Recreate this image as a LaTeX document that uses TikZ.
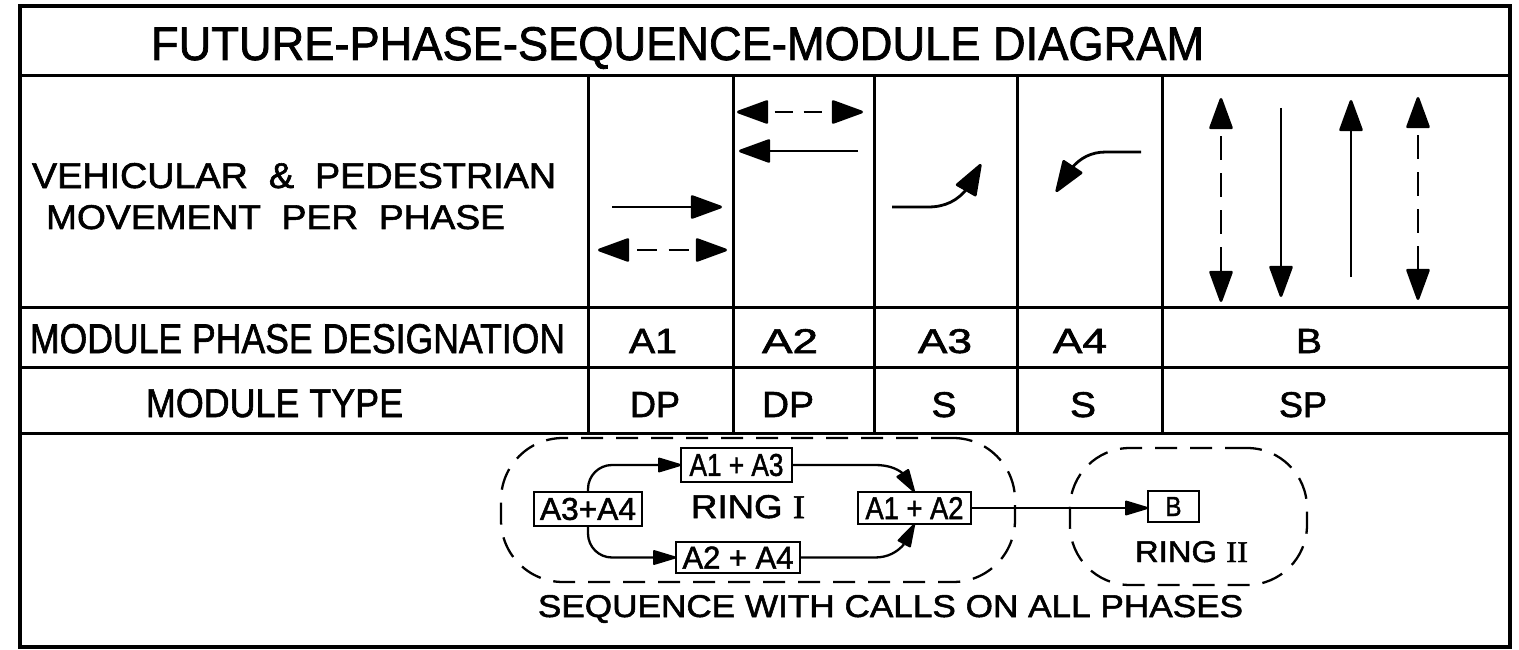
\documentclass[tikz,border=0pt]{standalone}
\usepackage{fontspec}
\setmainfont{Liberation Sans}[FakeBold=1.6]
\newfontfamily\serifI{Liberation Serif}[FakeBold=1.6]
\usepackage{graphicx}
\usetikzlibrary{arrows.meta,bending}
\newcommand{\T}[3]{\resizebox{#1pt}{#2pt}{#3}}
\newcommand{\rn}[1]{{\serifI #1}}
\begin{document}
\begin{tikzpicture}[x=1pt,y=-1pt]
\tikzset{
  framelw/.style={line width=3.5pt},
  gridlw/.style={line width=3pt},
  lbl/.style={inner sep=0pt, outer sep=0pt},
  mv/.style={line width=2.8pt},
  hd/.style={arrows={-Triangle[length=34pt,width=24pt,round]}},
  dhd/.style={arrows={Triangle[length=34pt,width=24pt,round]-Triangle[length=34pt,width=24pt,round]}},
  bx/.style={draw, line width=2.5pt, inner sep=0pt, outer sep=0pt},
  ringshape/.style={draw, line width=2.3pt, dash pattern=on 22pt off 13pt, inner sep=0pt, outer sep=0pt},
  sq/.style={line width=2.3pt, arrows={-Triangle[length=26pt,width=15pt,round]}}
}
\useasboundingbox (0,0) rectangle (1519,650);
\fill[white] (0,0) rectangle (1519,650);
% table grid
\draw[framelw] (20,6) rectangle (1510,647);
\draw[gridlw] (20,76) -- (1510,76);
\draw[gridlw] (20,307) -- (1510,307);
\draw[gridlw] (20,367) -- (1510,367);
\draw[gridlw] (20,433) -- (1510,433);
\foreach \x in {588,733,874,1017,1162} \draw[gridlw] (\x,76) -- (\x,433);
% texts
\node[lbl, anchor=base west] (title) at (151,60) {\T{1053}{33}{FUTURE-PHASE-SEQUENCE-MODULE DIAGRAM}};
\node[lbl, anchor=base west] (veh1) at (32,188) {\T{524}{25}{VEHICULAR \ \& \ PEDESTRIAN}};
\node[lbl, anchor=base west] (veh2) at (46,229) {\T{459}{24}{MOVEMENT \ PER \ PHASE}};
\node[lbl, anchor=base west] (mpd) at (30,353) {\T{535}{29}{MODULE PHASE DESIGNATION}};
\node[lbl, anchor=base west] (mtype) at (146,417) {\T{257}{28}{MODULE TYPE}};
\node[lbl, anchor=base] (dA1) at (653,353) {\T{48}{24}{A1}};
\node[lbl, anchor=base] (dA2) at (790,353) {\T{56}{24}{A2}};
\node[lbl, anchor=base] (dA3) at (945,353) {\T{54}{24}{A3}};
\node[lbl, anchor=base] (dA4) at (1080,353) {\T{54}{24}{A4}};
\node[lbl, anchor=base] (dB) at (1309,353) {\T{26}{24}{B}};
\node[lbl, anchor=base] (tA1) at (655,417) {\T{50}{25}{DP}};
\node[lbl, anchor=base] (tA2) at (788,417) {\T{52}{25}{DP}};
\node[lbl, anchor=base] (tA3) at (944,417) {\T{25}{25}{S}};
\node[lbl, anchor=base] (tA4) at (1083,417) {\T{26}{25}{S}};
\node[lbl, anchor=base] (tB) at (1303,417) {\T{48}{25}{SP}};
% movement arrows
\coordinate (p1a) at (612,207); \coordinate (p1b) at (722,207);
\coordinate (q1a) at (598,250); \coordinate (q1b) at (727,250);
\coordinate (q2a) at (737,112); \coordinate (q2b) at (863,112);
\coordinate (p2a) at (858,151); \coordinate (p2b) at (739,151);
\coordinate (p3a) at (892,207); \coordinate (p3b) at (981,164);
\coordinate (p4a) at (1141,152); \coordinate (p4b) at (1056,192);
\coordinate (qb1a) at (1221,98); \coordinate (qb1b) at (1221,302);
\coordinate (pb2a) at (1281,108); \coordinate (pb2b) at (1281,297);
\coordinate (pb3a) at (1351,277); \coordinate (pb3b) at (1351,100);
\coordinate (qb4a) at (1418,97); \coordinate (qb4b) at (1418,300);
\draw[mv,hd] (p1a) -- (p1b);
\draw[mv,dhd,dash pattern=on 20pt off 11pt,dash phase=22pt] (q1a) -- (q1b);
\draw[mv,dhd,dash pattern=on 18pt off 11pt,dash phase=22pt] (q2a) -- (q2b);
\draw[mv,hd] (p2a) -- (p2b);
\draw[mv,hd] (p3a) -- (928,207) .. controls (956,207) and (970,190) .. (p3b);
\draw[mv,hd] (p4a) -- (1106,152) .. controls (1080,152) and (1068,170) .. (p4b);
\draw[mv,dhd,dash pattern=on 24pt off 13pt,dash phase=29pt] (qb1a) -- (qb1b);
\draw[mv,hd] (pb2a) -- (pb2b);
\draw[mv,hd] (pb3a) -- (pb3b);
\draw[mv,dhd,dash pattern=on 24pt off 13pt,dash phase=29pt] (qb4a) -- (qb4b);
% rings
\node[ringshape, minimum width=514pt, minimum height=144pt, rounded corners=62pt] (ring1) at (758,510) {};
\node[ringshape, minimum width=237pt, minimum height=137pt, rounded corners=60pt] (ring2) at (1188.5,516.5) {};
% boxes
\node[bx, minimum width=108pt, minimum height=34pt] (a34) at (588,509) {\T{96}{22}{A3+A4}};
\node[bx, minimum width=111pt, minimum height=34pt] (a13) at (736.5,465) {\T{94}{22}{A1 + A3}};
\node[bx, minimum width=124pt, minimum height=31pt] (a24) at (738,557.5) {\T{111}{22}{A2 + A4}};
\node[bx, minimum width=113pt, minimum height=32pt] (a12) at (914.5,508) {\T{98}{22}{A1 + A2}};
\node[bx, minimum width=51pt, minimum height=31pt] (bb) at (1173.5,506.5) {\T{16}{19}{B}};
\node[lbl, anchor=base] (r1lbl) at (748,518) {\T{114}{23}{RING \rn{I}}};
\node[lbl, anchor=base] (r2lbl) at (1191.5,562) {\T{113}{21}{RING \rn{II}}};
\node[lbl, anchor=base] (seqlbl) at (890.5,617) {\T{705}{22}{SEQUENCE WITH CALLS ON ALL PHASES}};
% connectors
\draw[sq, rounded corners=24pt] (a34.north) |- (a13.west);
\draw[sq, rounded corners=24pt] (a34.south) |- (a24.west);
\draw[sq] (a13.east) -- (875,465) .. controls (898,465) and (910,476) .. (a12.north);
\draw[sq] (a24.east) -- (875,557.5) .. controls (898,557.5) and (910,540) .. (a12.south);
\draw[sq] (a12.east) -- (a12.east -| bb.west);
\end{tikzpicture}
\end{document}
